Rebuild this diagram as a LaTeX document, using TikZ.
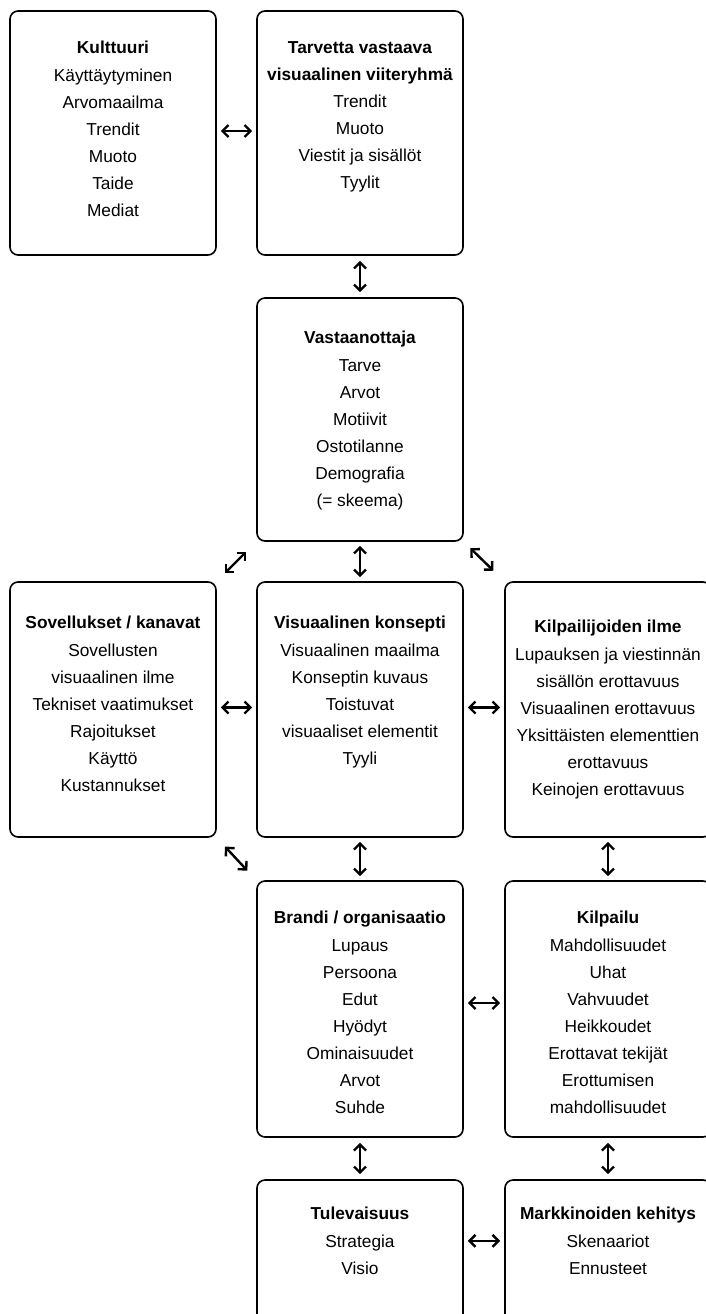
\documentclass[tikz,border=0pt]{standalone}
\usepackage{fontspec}
\setmainfont{Liberation Sans}
\usetikzlibrary{arrows.meta,calc,positioning}

\tikzset{
  box/.style={draw,line width=1.6pt,rounded corners=8pt,minimum width=206pt,inner sep=0pt},
  boxtext/.style={align=center,inner sep=0pt,font=\fontsize{17.3}{27.1}\selectfont},
  barb/.tip={Straight Barb[length=6pt,width=12pt]},
  link/.style={line width=2.4pt,barb-barb,shorten <=4pt,shorten >=4pt},
}

\begin{document}
\begin{tikzpicture}[x=1pt,y=-1pt]
  \useasboundingbox (0,0) rectangle (706,1314);
  \clip (0,0) rectangle (706,1314);

  \node[box,minimum height=244pt] (kult) at (113,133) {};
  \node[box,minimum height=244pt] (tarv) at (360,133) {};
  \node[box,minimum height=243pt] (vast) at (360,419.5) {};
  \node[box,minimum height=255pt] (sov) at (113,709.5) {};
  \node[box,minimum height=255pt] (visu) at (360,709.5) {};
  \node[box,minimum height=255pt] (kilpI) at (608,709.5) {};
  \node[box,minimum height=256pt] (brandi) at (360,1009) {};
  \node[box,minimum height=256pt] (kilpa) at (608,1009) {};
  \node[box,minimum height=256pt] (tule) at (360,1308) {};
  \node[box,minimum height=256pt] (mark) at (608,1308) {};

  \node[boxtext,below=31pt of kult.north] (kultT)
  {\textbf{Kulttuuri}\\Käyttäytyminen\\Arvomaailma\\Trendit\\Muoto\\Taide\\Mediat};
  \node[boxtext,below=31pt of tarv.north] (tarvT)
  {\textbf{Tarvetta vastaava}\\\textbf{visuaalinen viiteryhmä}\\Trendit\\Muoto\\Viestit ja sisällöt\\Tyylit};
  \node[boxtext,below=34pt of vast.north] (vastT)
  {\textbf{Vastaanottaja}\\Tarve\\Arvot\\Motiivit\\Ostotilanne\\Demografia\\(= skeema)};
  \node[boxtext,below=35pt of sov.north] (sovT)
  {\textbf{Sovellukset / kanavat}\\Sovellusten\\visuaalinen ilme\\Tekniset vaatimukset\\Rajoitukset\\Käyttö\\Kustannukset};
  \node[boxtext,below=35pt of visu.north] (visuT)
  {\textbf{Visuaalinen konsepti}\\Visuaalinen maailma\\Konseptin kuvaus\\Toistuvat\\visuaaliset elementit\\Tyyli};
  \node[boxtext,below=39pt of kilpI.north] (kilpIT)
  {\textbf{Kilpailijoiden ilme}\\Lupauksen ja viestinnän\\sisällön erottavuus\\Visuaalinen erottavuus\\Yksittäisten elementtien\\erottavuus\\Keinojen erottavuus};
  \node[boxtext,below=31pt of brandi.north] (brandiT)
  {\textbf{Brandi / organisaatio}\\Lupaus\\Persoona\\Edut\\Hyödyt\\Ominaisuudet\\Arvot\\Suhde};
  \node[boxtext,below=31pt of kilpa.north] (kilpaT)
  {\textbf{Kilpailu}\\Mahdollisuudet\\Uhat\\Vahvuudet\\Heikkoudet\\Erottavat tekijät\\Erottumisen\\mahdollisuudet};
  \node[boxtext,below=28pt of tule.north] (tuleT)
  {\textbf{Tulevaisuus}\\Strategia\\Visio};
  \node[boxtext,below=28pt of mark.north] (markT)
  {\textbf{Markkinoiden kehitys}\\Skenaariot\\Ennusteet};

  \draw[link] ([yshift=2pt]kult.east) -- ([yshift=2pt]tarv.west);
  \draw[link,shorten <=5pt,shorten >=5pt] (tarv) -- (vast);
  \draw[link] (vast) -- (visu);
  \draw[link,shorten <=11pt,shorten >=14pt] (sov.north east) -- (vast.south west);
  \draw[link,shorten <=9pt,shorten >=15pt] (vast.south east) -- (kilpI.north west);
  \draw[link] ([yshift=2pt]sov.east) -- ([yshift=2pt]visu.west);
  \draw[link] ([yshift=2pt]visu.east) -- ([yshift=2pt]kilpI.west);
  \draw[link,shorten <=12pt,shorten >=13pt] (sov.south east) -- (brandi.north west);
  \draw[link] (visu) -- (brandi);
  \draw[link] (kilpI) -- (kilpa);
  \draw[link] ([yshift=6pt]brandi.east) -- ([yshift=6pt]kilpa.west);
  \draw[link,shorten <=5pt,shorten >=5pt] (brandi) -- (tule);
  \draw[link,shorten <=5pt,shorten >=5pt] (kilpa) -- (mark);
  \draw[link] (tule.east |- tuleT) -- (mark.west |- tuleT);
\end{tikzpicture}
\end{document}
